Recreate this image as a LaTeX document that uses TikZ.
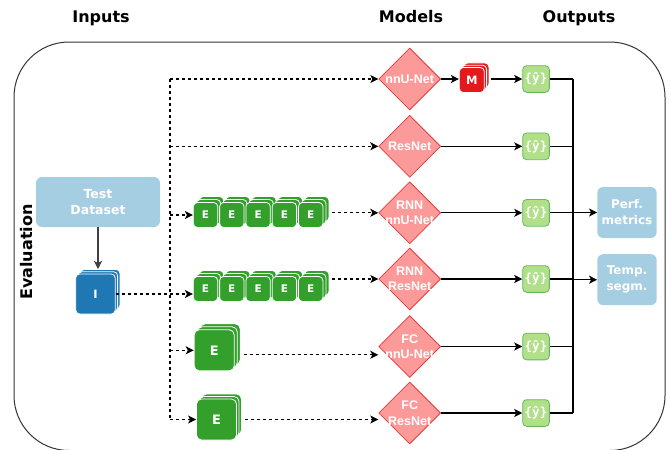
\documentclass[tikz,border=0pt]{standalone}
\usepackage{fontspec}
\setmainfont{DejaVu Sans}
\setmonofont{DejaVu Sans Mono}
\newfontfamily\modelfont{Liberation Sans}
\usetikzlibrary{arrows.meta,calc,shapes.geometric}

\definecolor{lblue}{HTML}{A6CEE3}
\definecolor{dblue}{HTML}{1F78B4}
\definecolor{lgreen}{HTML}{B2DF8A}
\definecolor{dgreen}{HTML}{33A02C}
\definecolor{lred}{HTML}{FB9A99}
\definecolor{dred}{HTML}{E31A1C}

% three copies of a box, each one shifted up and right
\def\stackbox[#1](#2)(#3:#4)#5{
	\node[#1, xshift=2*#4, yshift=2*#4] (#2-b) at (#3) {};
	\node[#1, xshift=#4, yshift=#4] (#2-a) at (#3) {};
	\node[#1] (#2) at (#3) {#5};
}

\tikzset{
	link/.style={line width=1.1pt, -{Stealth[length=8pt,width=8pt,inset=2pt]}},
	wire/.style={line width=1.1pt},
	dlink/.style={link, dash pattern=on 3pt off 3pt},
	title/.style={font=\fontsize{16}{19}\selectfont\bfseries, anchor=base},
	layer/.style={draw=white, line width=0.8pt, rounded corners=4pt, inner sep=0pt, text=white},
	ibox/.style={layer, fill=dblue, minimum width=39.6pt, minimum height=40pt, font=\fontsize{11.5}{13}\selectfont\bfseries},
	ebox/.style={layer, fill=dgreen, minimum width=24.4pt, minimum height=25pt, font=\fontsize{10.5}{12}\selectfont\bfseries},
	bigebox/.style={layer, fill=dgreen, rounded corners=5pt, minimum width=40pt, minimum height=41pt, font=\fontsize{13}{15}\selectfont\bfseries},
	mbox/.style={layer, fill=dred, minimum width=25pt, minimum height=25pt, font=\fontsize{11.5}{13}\selectfont\bfseries},
	model/.style={diamond, aspect=1, fill=lred, draw=dred!85, line width=0.8pt, minimum width=62pt, minimum height=62pt, inner sep=0pt},
	modeltxt/.style={text=white, align=center, inner sep=0pt, font=\modelfont\fontsize{12.5}{15.5}\selectfont\bfseries},
	yhat/.style={fill=lgreen, draw=dgreen!75, line width=0.8pt, rounded corners=4pt, minimum width=26.7pt, minimum height=26.7pt, inner sep=0pt, text=white, font=\ttfamily\fontsize{12.5}{14}\selectfont\bfseries},
	result/.style={fill=lblue, rounded corners=6pt, inner sep=0pt, minimum width=59.4pt, minimum height=51pt, text=white, align=center, font=\fontsize{12}{16}\selectfont\bfseries},
}

\begin{document}
\begin{tikzpicture}[x=1pt, y=-1pt]
	\useasboundingbox (0,0) rectangle (670,450);

	%%%%% FRAME %%%%%
	\draw[black!80, line width=1pt, rounded corners=55pt] (14,42) rectangle (665,450.5);
	\node[title] (tin) at (101,22.5) {Inputs};
	\node[title] (tmod) at (411,22.5) {Models};
	\node[title] (tout) at (579,22.5) {Outputs};
	\node[title, anchor=center, rotate=90] (teval) at (27,252) {Evaluation};

	\coordinate (bus) at (170,0);
	\coordinate (sink) at (573,0);

	%%%%% INPUTS %%%%%
	\node[result, minimum width=124pt, minimum height=50pt, font=\fontsize{12.5}{16}\selectfont\bfseries] (data) at (98,202) {Test\\Dataset};
	\stackbox[ibox](img)(95.5,294:2.3pt){I}

	\foreach \k in {1,...,5}{
		\pgfmathsetmacro\xx{205.5+26.3*(\k-1)}
		\stackbox[ebox](ea\k)(\xx,215:3pt){E}
		\stackbox[ebox](eb\k)(\xx,289:3pt){E}
	}
	\stackbox[bigebox](ec)(214.2,350.3:3pt){E}
	\stackbox[bigebox](ed)(216.5,419.5:2.5pt){E}

	%%%%% MODELS %%%%%
	\foreach \i/\yy/\txt in {1/79/nnU-Net, 2/146.3/ResNet, 3/212.8/RNN\\nnU-Net, 4/279/RNN\\ResNet, 5/346.5/FC\\nnU-Net, 6/413/FC\\ResNet}{
		\node[model] (m\i) at (409.7,\yy) {};
		\node[modeltxt] (m\i t) at (m\i) {\txt};
		\node[yhat] (y\i) at (536,\yy) {\{ŷ\}};
	}
	\stackbox[mbox](mdl)(471.8,80:2.3pt){M}

	%%%%% OUTPUTS %%%%%
	\node[result] (perf) at (627,212.5) {Perf.\\metrics};
	\node[result] (temp) at (627,279.7) {Temp.\\segm.};

	%%%%% LINKS %%%%%
	\draw[link, black!75] (data) -- (data.south |- img-b.north);
	\draw[dlink] (img.east) -- (img.east -| eb1.west);
	\draw[wire, dash pattern=on 3pt off 3pt] (bus |- m1) -- (bus |- ed);
	\draw[dlink] (bus |- m1) -- (m1.west);
	\draw[dlink] (bus |- m2) -- (m2.west);
	\draw[dlink] (bus |- ea1) -- (ea1.west);
	\draw[dlink] (bus |- ec) -- (ec.west);
	\draw[dlink] (bus |- ed) -- (ed.west);

	\draw[dlink, shorten <=3pt] (ea5-b.east |- m3) -- (m3.west);
	\draw[dlink, shorten <=3pt] (eb5-b.east |- m4) -- (m4.west);
	\coordinate (ecout) at ($(ec-b.east |- ec)+(0,4.5)$);
	\draw[dlink, shorten <=3pt] (ecout) -- (ecout -| m5.west);
	\draw[dlink, shorten <=3pt] (ed-b.east |- ed) -- (ed -| m6.west);

	\draw[link] (m1.east) -- (m1.east -| mdl.west);
	\draw[link, shorten <=2pt] (mdl-b.east |- y1) -- (y1.west);
	\foreach \i in {2,...,6} \draw[link] (m\i.east) -- (y\i.west);

	\foreach \i in {1,...,6} \draw[wire] (y\i.east) -- (y\i -| sink);
	\draw[wire] (y1 -| sink) -- (y6 -| sink);
	\draw[link] (perf -| sink) -- (perf.west);
	\draw[link] (temp -| sink) -- (temp.west);
\end{tikzpicture}
\end{document}
